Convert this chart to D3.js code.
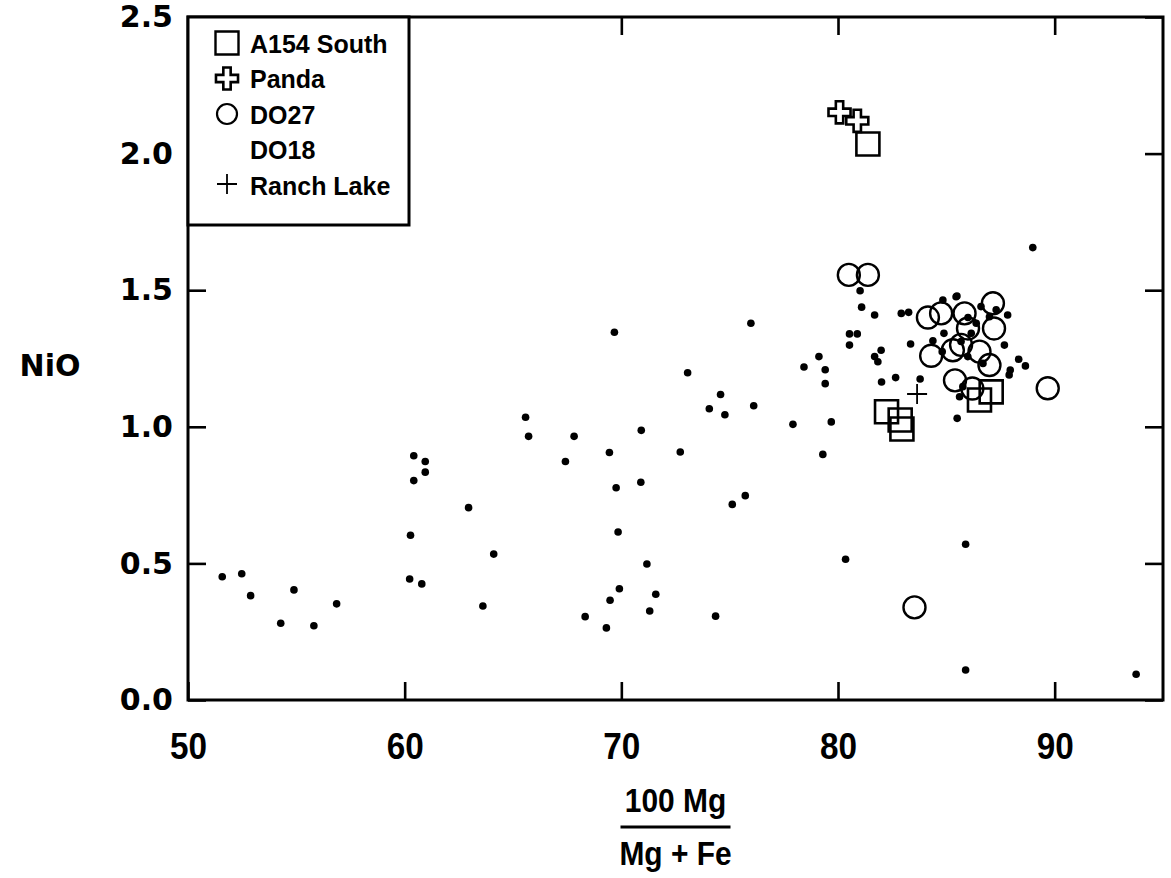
<!DOCTYPE html>
<html>
<head>
<meta charset="utf-8">
<script src="https://cdn.jsdelivr.net/npm/d3@7"></script>
<style>
  body { margin: 0; background: #fff; }
  text { fill: #000; }
</style>
</head>
<body>
<div id="grafica"></div>
<script>
// data: [100Mg/(Mg+Fe), NiO]
var a154South = [[81.38, 2.035], [82.24, 1.055], [82.87, 1.025], [82.95, 0.992], [87.07, 1.128], [86.53, 1.098]];
var panda = [[80.07, 2.151], [80.89, 2.120]];
var do27 = [[80.5, 1.556], [81.38, 1.556], [84.15, 1.40], [84.76, 1.415], [85.84, 1.415], [87.15, 1.452],
  [87.2, 1.36], [85.68, 1.30], [85.3, 1.28], [86.53, 1.275], [84.3, 1.26], [86.99, 1.226], [85.4, 1.17],
  [86.2, 1.14], [89.68, 1.141], [83.53, 0.339], [86.0, 1.36]];
var do18 = [[51.58, 0.451], [52.48, 0.462], [52.89, 0.382], [54.89, 0.403], [54.28, 0.281], [55.81, 0.272], [56.86, 0.352],
  [60.42, 0.894], [60.95, 0.873], [60.95, 0.834], [60.42, 0.803], [62.95, 0.704], [60.27, 0.603], [60.23, 0.443],
  [60.79, 0.425], [63.61, 0.344], [64.11, 0.534],
  [65.58, 1.035], [65.72, 0.965], [67.82, 0.965], [67.42, 0.873], [69.45, 0.906], [70.92, 0.987], [72.72, 0.908],
  [69.68, 1.346], [69.76, 0.777], [70.9, 0.797], [69.85, 0.615], [71.18, 0.498], [69.91, 0.407], [71.59, 0.387],
  [69.48, 0.365], [71.31, 0.326], [68.33, 0.305], [69.31, 0.264], [74.35, 0.307],
  [73.06, 1.198], [74.58, 1.118], [74.06, 1.066], [74.78, 1.044], [76.11, 1.077], [75.98, 1.379], [75.72, 0.748], [75.12, 0.716],
  [77.92, 1.009], [78.43, 1.219], [79.12, 1.257], [79.41, 1.209], [79.41, 1.158], [79.69, 1.018], [79.3, 0.899], [80.35, 0.515],
  [81.02, 1.498], [81.09, 1.438], [81.69, 1.409], [80.53, 1.340], [80.89, 1.340], [80.53, 1.299], [81.99, 1.280],
  [81.69, 1.257], [81.84, 1.238], [82.66, 1.180], [82.01, 1.164], [83.79, 1.175], [82.92, 1.415], [83.26, 1.419], [83.35, 1.303],
  [84.84, 1.464], [85.49, 1.479], [84.89, 1.342], [84.38, 1.315], [84.81, 1.275], [85.45, 1.476], [86.38, 1.379],
  [86.15, 1.342], [86.99, 1.403], [87.3, 1.428], [85.68, 1.312], [85.99, 1.257], [86.69, 1.232], [85.76, 1.147],
  [85.61, 1.110], [85.5, 1.031], [87.83, 1.409], [87.68, 1.299], [88.34, 1.247], [88.65, 1.223], [87.95, 1.208],
  [87.9, 1.19], [88.99, 1.656], [85.89, 0.570], [85.89, 0.110], [93.76, 0.094], [86.6, 1.44], [86.0, 1.40]];
var ranchLake = [[83.65, 1.120]];

var xTicks = [50, 60, 70, 80, 90];
var yTicks = [0, 0.5, 1.0, 1.5, 2.0, 2.5];
var legendNames = ["A154 South", "Panda", "DO27", "DO18", "Ranch Lake"];

// set the dimensions and margins of the graph
var margin = {top: 17, right: 8, bottom: 178, left: 188},
    width = 1171 - margin.left - margin.right,
    height = 878 - margin.top - margin.bottom;

var svg = d3.select("#grafica")
  .append("svg")
  .attr("width", width + margin.left + margin.right)
  .attr("height", height + margin.top + margin.bottom)
  .append("g")
  .attr("transform", `translate(${margin.left},${margin.top})`);

var x = d3.scaleLinear().domain([50, 95]).range([0, width]);
var y = d3.scaleLinear().domain([0, 2.5]).range([height, 0]);

var tickFont = "'DejaVu Sans', sans-serif";
var textFont = "'Liberation Sans', Arial, sans-serif";

// bottom axis with labels, ticks pointing in
var xAxis = svg.append("g")
  .attr("transform", `translate(0, ${height})`)
  .call(d3.axisBottom(x).tickValues(xTicks).tickSizeInner(-18).tickSizeOuter(0).tickPadding(0));
xAxis.selectAll("text")
  .attr("y", 0)
  .attr("dy", "1.6em")
  .style("font-family", textFont)
  .style("font-weight", "bold")
  .style("font-size", "37px")
  .attr("transform", "scale(0.9,1)");

// left axis with labels
var yAxis = svg.append("g")
  .call(d3.axisLeft(y).tickValues(yTicks).tickFormat(d3.format(".1f")).tickSizeInner(-18).tickSizeOuter(0).tickPadding(15));
yAxis.selectAll("text")
  .style("font-family", tickFont)
  .style("font-weight", "bold")
  .style("font-size", "30px");

// top and right axes: ticks only
svg.append("g")
  .call(d3.axisTop(x).tickValues(xTicks).tickSizeInner(-18).tickSizeOuter(0).tickFormat(""));
svg.append("g")
  .attr("transform", `translate(${width}, 0)`)
  .call(d3.axisRight(y).tickValues(yTicks).tickSizeInner(-18).tickSizeOuter(0).tickFormat(""));

svg.selectAll(".domain").remove();
svg.selectAll(".tick line").attr("stroke", "#000").attr("stroke-width", 2.6);

// frame
svg.append("rect")
  .attr("x", 0).attr("y", 0)
  .attr("width", width).attr("height", height)
  .attr("fill", "none")
  .attr("stroke", "#000")
  .attr("stroke-width", 3);

// DO18 small filled dots
svg.append("g").selectAll("circle")
  .data(do18)
  .join("circle")
  .attr("cx", function(d) { return x(d[0]); })
  .attr("cy", function(d) { return y(d[1]); })
  .attr("r", 3.8)
  .attr("fill", "#000");

// DO27 open circles
svg.append("g").selectAll("circle")
  .data(do27)
  .join("circle")
  .attr("cx", function(d) { return x(d[0]); })
  .attr("cy", function(d) { return y(d[1]); })
  .attr("r", 11)
  .attr("fill", "none")
  .attr("stroke", "#000")
  .attr("stroke-width", 2.4);

// A154 South squares
svg.append("g").selectAll("path")
  .data(a154South)
  .join("path")
  .attr("transform", function(d) { return `translate(${x(d[0])},${y(d[1])})`; })
  .attr("d", d3.symbol(d3.symbolSquare, 23 * 23))
  .attr("fill", "none")
  .attr("stroke", "#000")
  .attr("stroke-width", 2.6);

// Panda outlined crosses
svg.append("g").selectAll("path")
  .data(panda)
  .join("path")
  .attr("transform", function(d) { return `translate(${x(d[0])},${y(d[1])})`; })
  .attr("d", d3.symbol(d3.symbolCross, 270))
  .attr("fill", "#fff")
  .attr("stroke", "#000")
  .attr("stroke-width", 2.6);

// Ranch Lake thin plus
svg.append("g").selectAll("path")
  .data(ranchLake)
  .join("path")
  .attr("transform", function(d) { return `translate(${x(d[0])},${y(d[1])})`; })
  .attr("d", "M-10,0H10M0,-10V10")
  .attr("stroke", "#000")
  .attr("stroke-width", 1.8);

// legend
var legend = svg.append("g");
legend.append("rect")
  .attr("x", 0).attr("y", 0)
  .attr("width", 221).attr("height", 208)
  .attr("fill", "#fff")
  .attr("stroke", "#000")
  .attr("stroke-width", 3);

var rowY = [27, 62.5, 98, 133.5, 169];
legend.append("path")
  .attr("transform", `translate(39, ${rowY[0] - 1})`)
  .attr("d", d3.symbol(d3.symbolSquare, 23 * 23))
  .attr("fill", "none").attr("stroke", "#000").attr("stroke-width", 2.4);
legend.append("path")
  .attr("transform", `translate(39, ${rowY[1] - 1})`)
  .attr("d", d3.symbol(d3.symbolCross, 270))
  .attr("fill", "none").attr("stroke", "#000").attr("stroke-width", 2.6);
legend.append("circle")
  .attr("cx", 39).attr("cy", rowY[2] - 1).attr("r", 10)
  .attr("fill", "none").attr("stroke", "#000").attr("stroke-width", 2.2);
legend.append("path")
  .attr("transform", `translate(39, ${rowY[4] - 2})`)
  .attr("d", "M-10,0H10M0,-10V10")
  .attr("stroke", "#000").attr("stroke-width", 1.8);

legend.selectAll("text")
  .data(legendNames)
  .join("text")
  .attr("x", 62)
  .attr("y", function(d, i) { return rowY[i]; })
  .attr("dy", "0.35em")
  .style("font-family", textFont)
  .style("font-weight", "bold")
  .style("font-size", "25px")
  .text(function(d) { return d; });

// y axis title
svg.append("text")
  .attr("x", 50 - margin.left)
  .attr("y", 365 - margin.top)
  .attr("dy", "0.35em")
  .style("text-anchor", "middle")
  .style("font-family", tickFont)
  .style("font-weight", "bold")
  .style("font-size", "30px")
  .text("NiO");

// x axis title, written as a fraction
var xTitle = svg.append("g")
  .attr("transform", `translate(${width / 2}, ${height})`);
xTitle.append("text")
  .attr("y", 112)
  .attr("transform", "scale(0.88,1)")
  .style("text-anchor", "middle")
  .style("font-family", textFont)
  .style("font-weight", "bold")
  .style("font-size", "34px")
  .text("100 Mg");
xTitle.append("line")
  .attr("x1", -55).attr("x2", 55)
  .attr("y1", 127).attr("y2", 127)
  .attr("stroke", "#000")
  .attr("stroke-width", 3);
xTitle.append("text")
  .attr("y", 165)
  .attr("transform", "scale(0.88,1)")
  .style("text-anchor", "middle")
  .style("font-family", textFont)
  .style("font-weight", "bold")
  .style("font-size", "34px")
  .text("Mg + Fe");
</script>
</body>
</html>
